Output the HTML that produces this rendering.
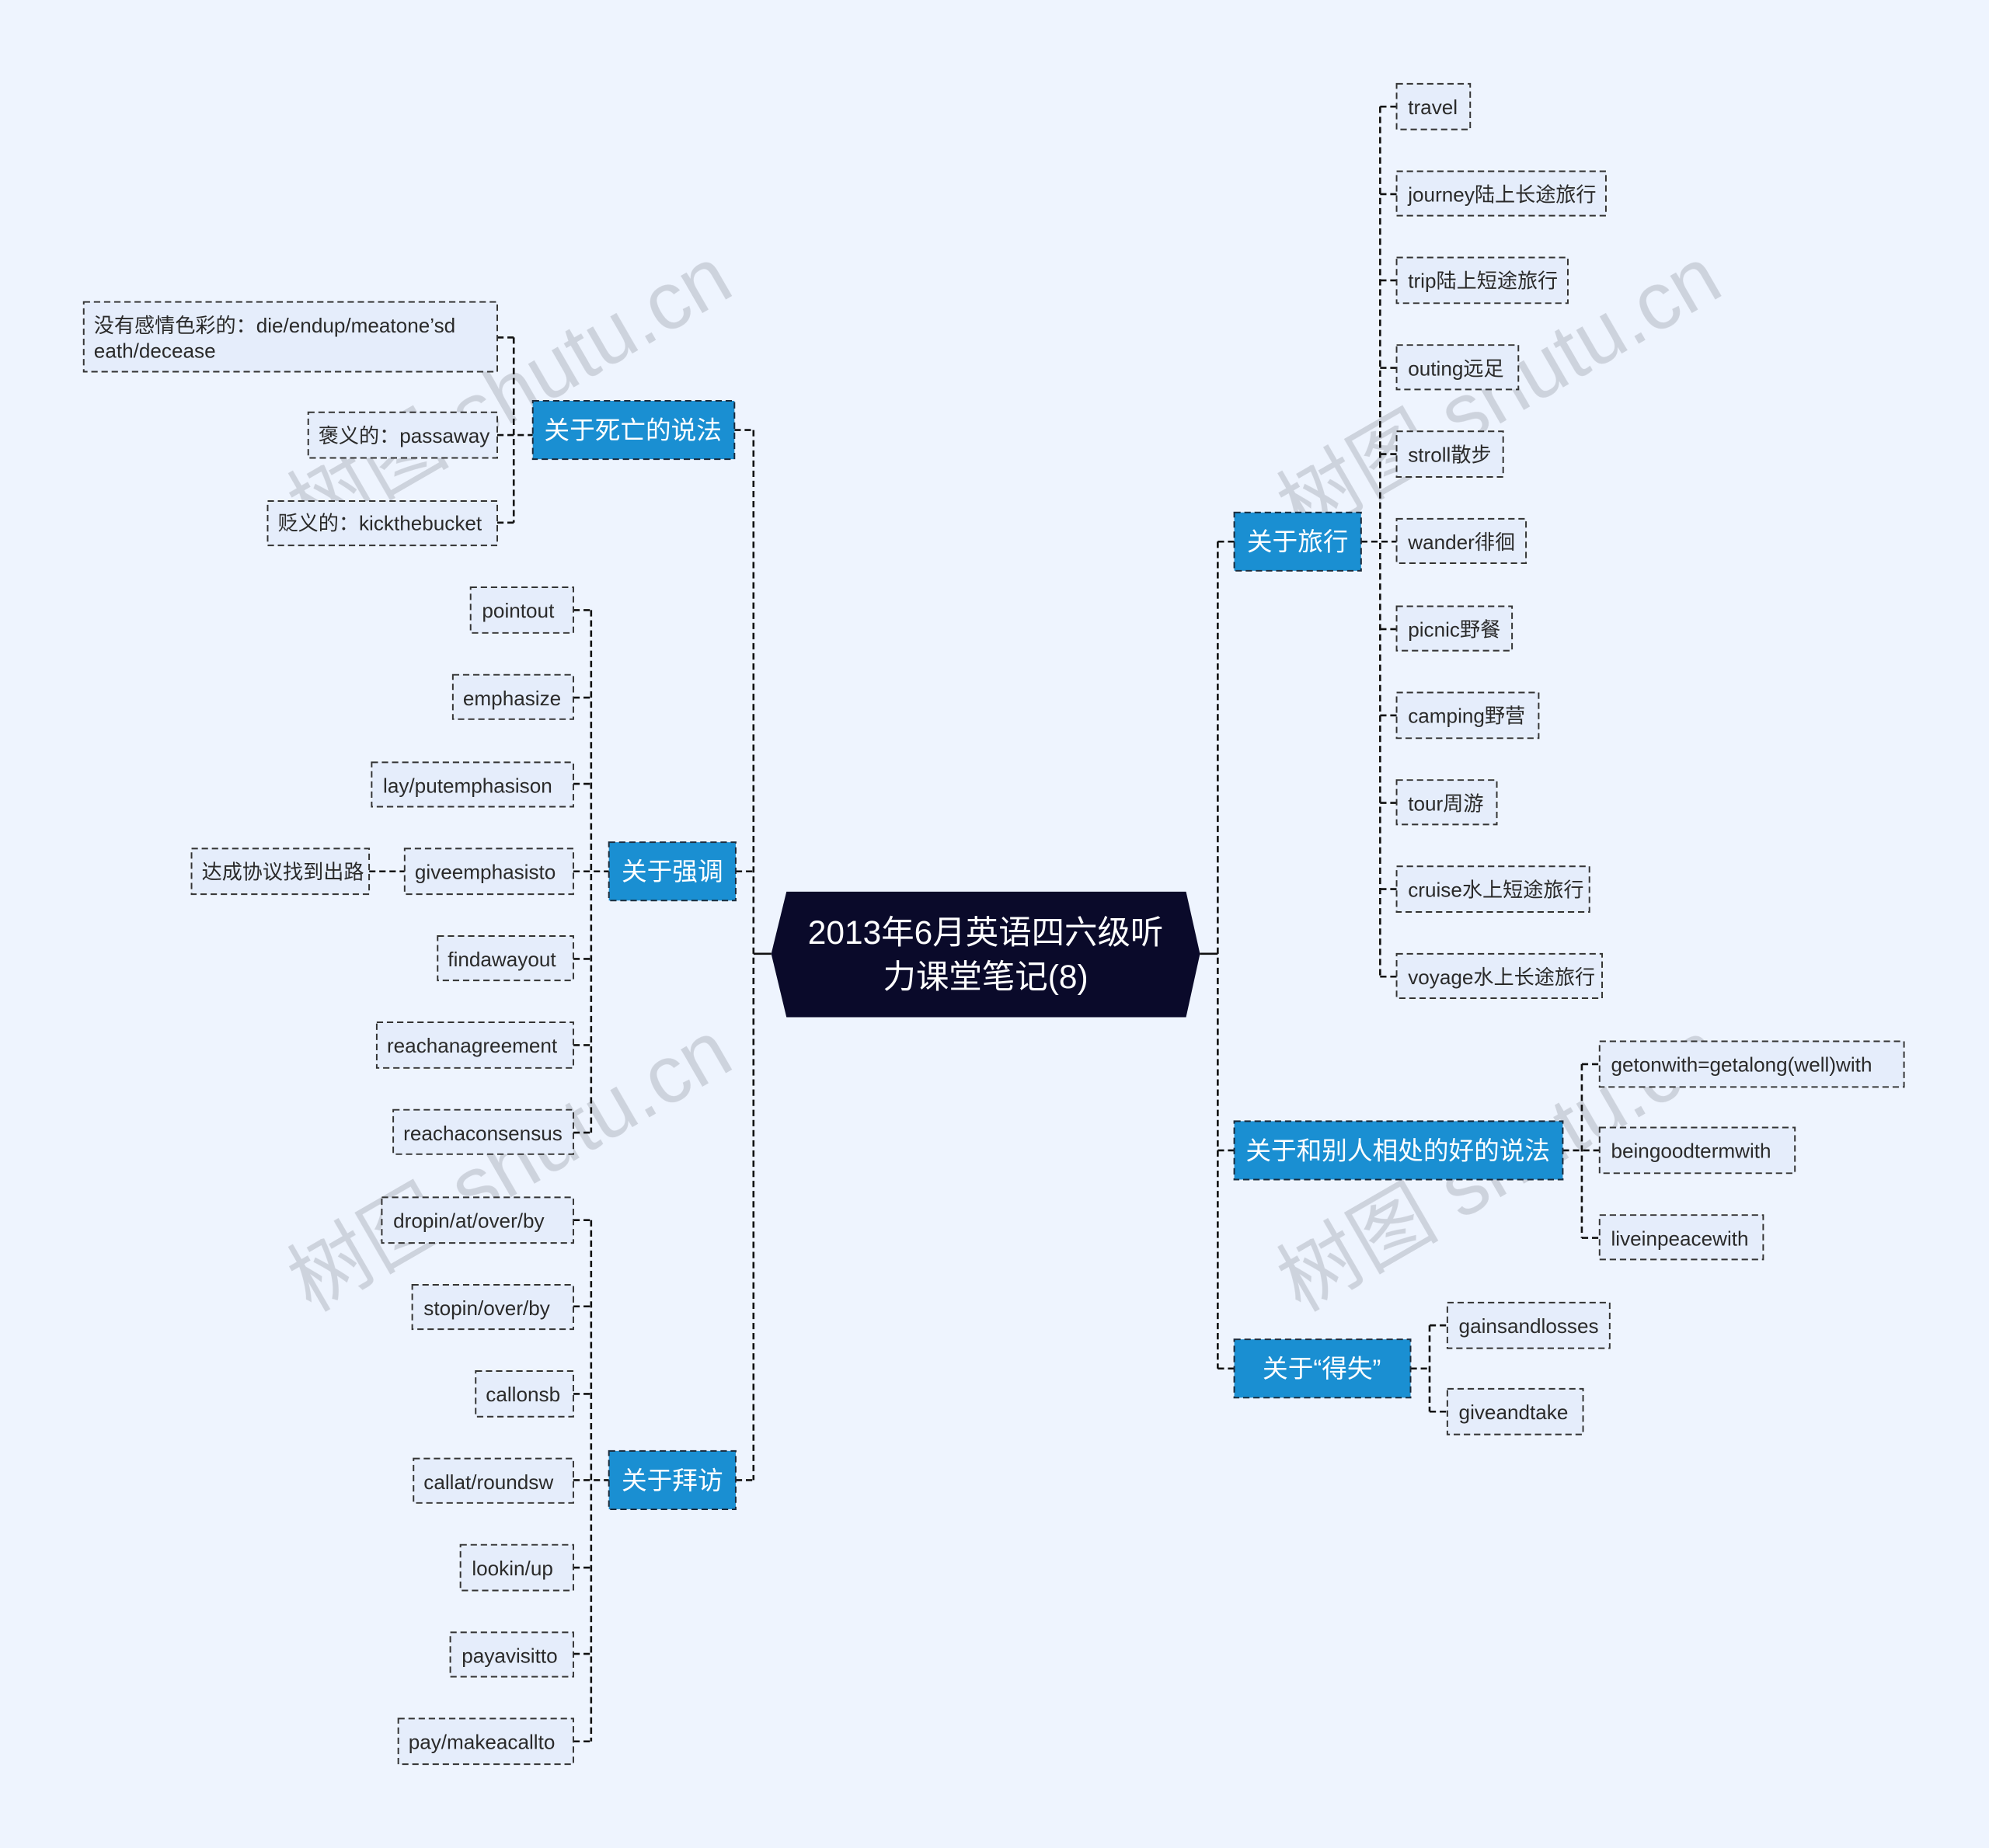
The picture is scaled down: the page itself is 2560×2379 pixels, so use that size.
<!DOCTYPE html>
<html><head><meta charset="utf-8"><style>
html,body{margin:0;padding:0;background:#eef4fe;width:2560px;height:2379px;overflow:hidden;}
#wrap{position:relative;width:2560px;height:2379px;overflow:hidden;}
svg{display:block;overflow:hidden}
.lf rect{fill:#e5edfb;stroke:#333;stroke-width:1.2;stroke-dasharray:5,3}
.lf text{font-family:"Liberation Sans","Noto Sans CJK SC",sans-serif;font-size:16px;fill:#2a2a2a}
.br rect{fill:#1a8fd2;stroke:#1b2a3a;stroke-width:1.2;stroke-dasharray:5,3}
.br text{font-family:"Liberation Sans","Noto Sans CJK SC",sans-serif;font-size:20px;fill:#fff}
.ln{stroke:#111;stroke-width:1.6;stroke-dasharray:5,3;fill:none}
.wm{font-family:"Liberation Sans","Noto Sans CJK SC",sans-serif;font-size:64px;fill:#b8bcc6;opacity:.6}
</style></head><body><div id="wrap">
<svg width="2560" height="2379" viewBox="0 0 1568 1457" xmlns="http://www.w3.org/2000/svg">
<rect width="1568" height="1457" fill="#eef4fe"/>
<g class="wm">
<text transform="translate(245,425) rotate(-30)">树图 shutu.cn</text>
<text transform="translate(1025,425) rotate(-30)">树图 shutu.cn</text>
<text transform="translate(245,1035) rotate(-30)">树图 shutu.cn</text>
<text transform="translate(1025,1035) rotate(-30)">树图 shutu.cn</text>
</g>
<path class="ln" style="stroke-dasharray:none" d="M594 752H608M946 752H960"/>
<path class="ln" d="M594 339V1167M579 339H594M580 687H594M580 1167H594"/>
<path class="ln" d="M960 427V1079M960 427H973M960 907H973M960 1079H973"/>
<path class="ln" d="M405 266V412M392 266H405M392 343H420M392 412H405"/>
<path class="ln" d="M466 481V893M452 481H466M452 550H466M452 618H466M452 687H480M452 756H466M452 824H466M452 893H466M291 687H319"/>
<path class="ln" d="M466 962V1373M452 962H466M452 1030H466M452 1099H466M452 1167H480M452 1236H466M452 1304H466M452 1373H466"/>
<path class="ln" d="M1088 84V770M1073 427H1101M1088 84H1101M1088 153H1101M1088 221H1101M1088 290H1101M1088 358H1101M1088 496H1101M1088 564H1101M1088 633H1101M1088 701H1101M1088 770H1101"/>
<path class="ln" d="M1247 839V976M1232 907H1261M1247 839H1261M1247 976H1261"/>
<path class="ln" d="M1127 1045V1113M1112 1079H1127M1127 1045H1141M1127 1113H1141"/>
<polygon points="620,703 935,703 946,752 935,802 620,802 608,752" fill="#0a0a2a"/>
<text x="777" y="744" text-anchor="middle" font-family="Liberation Sans,Noto Sans CJK SC,sans-serif" font-size="26" fill="#fff">2013年6月英语四六级听</text>
<text x="777" y="779" text-anchor="middle" font-family="Liberation Sans,Noto Sans CJK SC,sans-serif" font-size="26" fill="#fff">力课堂笔记(8)</text>
<g class="br">
<rect x="420" y="316" width="159" height="46"/><text x="499" y="346" text-anchor="middle">关于死亡的说法</text>
<rect x="480" y="664" width="100" height="46"/><text x="530" y="694" text-anchor="middle">关于强调</text>
<rect x="480" y="1144" width="100" height="46"/><text x="530" y="1174" text-anchor="middle">关于拜访</text>
<rect x="973" y="404" width="100" height="46"/><text x="1023" y="434" text-anchor="middle">关于旅行</text>
<rect x="973" y="884" width="259" height="46"/><text x="1102" y="914" text-anchor="middle">关于和别人相处的好的说法</text>
<rect x="973" y="1056" width="139" height="46"/><text x="1042" y="1086" text-anchor="middle">关于“得失”</text>
</g>
<g class="lf">
<rect x="66" y="238" width="326" height="55"/><text x="74" y="262">没有感情色彩的：die/endup/meatone’sd</text><text x="74" y="282">eath/decease</text>
<rect x="243" y="325" width="149" height="36"/><text x="251" y="349">褒义的：passaway</text>
<rect x="211" y="395" width="181" height="35"/><text x="219" y="418">贬义的：kickthebucket</text>
<rect x="371" y="463" width="81" height="36"/><text x="380" y="487">pointout</text>
<rect x="357" y="532" width="95" height="35"/><text x="365" y="556">emphasize</text>
<rect x="293" y="601" width="159" height="35"/><text x="302" y="625">lay/putemphasison</text>
<rect x="319" y="669" width="133" height="36"/><text x="327" y="693">giveemphasisto</text>
<rect x="151" y="669" width="140" height="36"/><text x="159" y="693">达成协议找到出路</text>
<rect x="345" y="738" width="107" height="35"/><text x="353" y="762">findawayout</text>
<rect x="297" y="806" width="155" height="36"/><text x="305" y="830">reachanagreement</text>
<rect x="310" y="875" width="142" height="35"/><text x="318" y="899">reachaconsensus</text>
<rect x="301" y="944" width="151" height="36"/><text x="310" y="968">dropin/at/over/by</text>
<rect x="325" y="1013" width="127" height="35"/><text x="334" y="1037">stopin/over/by</text>
<rect x="375" y="1081" width="77" height="36"/><text x="383" y="1105">callonsb</text>
<rect x="326" y="1150" width="126" height="35"/><text x="334" y="1174">callat/roundsw</text>
<rect x="363" y="1218" width="89" height="36"/><text x="372" y="1242">lookin/up</text>
<rect x="355" y="1287" width="97" height="35"/><text x="364" y="1311">payavisitto</text>
<rect x="314" y="1355" width="138" height="36"/><text x="322" y="1379">pay/makeacallto</text>
<rect x="1101" y="66" width="58" height="36"/><text x="1110" y="90">travel</text>
<rect x="1101" y="135" width="165" height="35"/><text x="1110" y="159">journey陆上长途旅行</text>
<rect x="1101" y="203" width="135" height="36"/><text x="1110" y="227">trip陆上短途旅行</text>
<rect x="1101" y="272" width="96" height="35"/><text x="1110" y="296">outing远足</text>
<rect x="1101" y="340" width="84" height="36"/><text x="1110" y="364">stroll散步</text>
<rect x="1101" y="409" width="102" height="35"/><text x="1110" y="433">wander徘徊</text>
<rect x="1101" y="478" width="91" height="35"/><text x="1110" y="502">picnic野餐</text>
<rect x="1101" y="546" width="112" height="36"/><text x="1110" y="570">camping野营</text>
<rect x="1101" y="615" width="79" height="35"/><text x="1110" y="639">tour周游</text>
<rect x="1101" y="683" width="152" height="36"/><text x="1110" y="707">cruise水上短途旅行</text>
<rect x="1101" y="752" width="162" height="35"/><text x="1110" y="776">voyage水上长途旅行</text>
<rect x="1261" y="821" width="240" height="36"/><text x="1270" y="845">getonwith=getalong(well)with</text>
<rect x="1261" y="889" width="154" height="36"/><text x="1270" y="913">beingoodtermwith</text>
<rect x="1261" y="958" width="129" height="35"/><text x="1270" y="982">liveinpeacewith</text>
<rect x="1141" y="1027" width="128" height="36"/><text x="1150" y="1051">gainsandlosses</text>
<rect x="1141" y="1095" width="107" height="36"/><text x="1150" y="1119">giveandtake</text>
</g>
</svg>
</div></body></html>
